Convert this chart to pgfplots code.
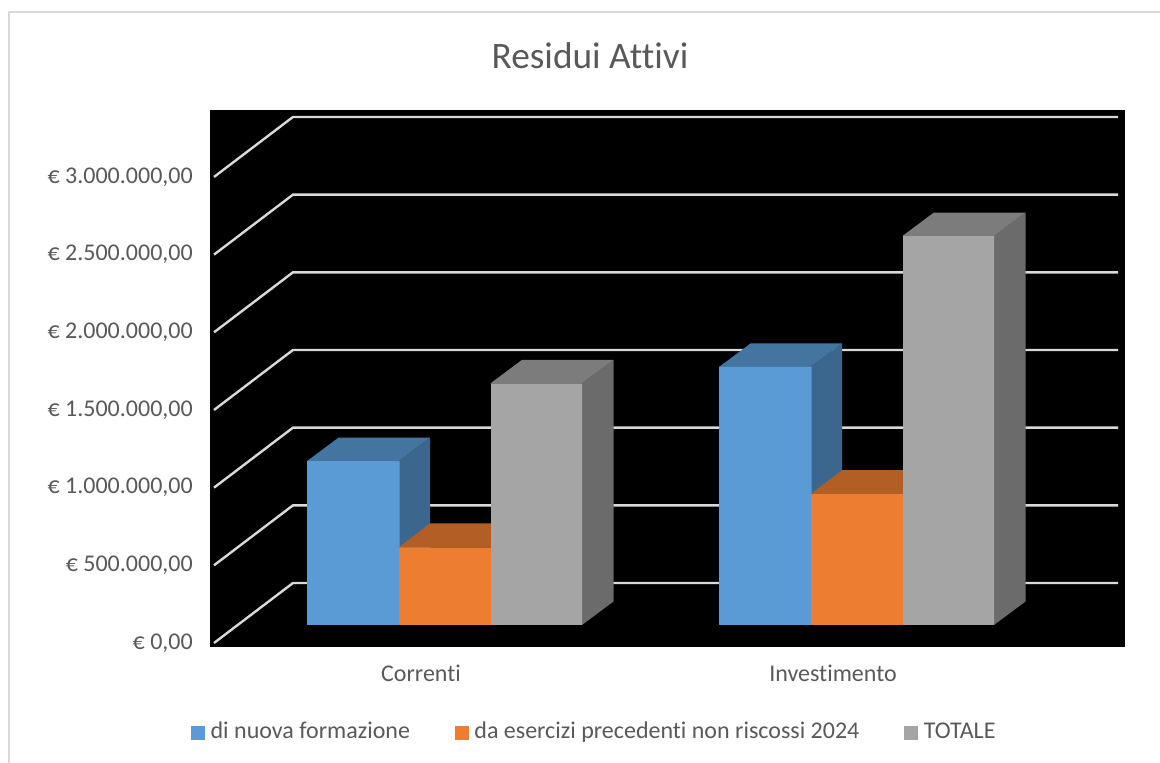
\documentclass[border=0pt]{standalone}
\usepackage{fontspec}
\setmainfont{Carlito}[Ligatures=NoCommon]
\usepackage{pgfplots}
\pgfplotsset{compat=1.18}

\definecolor{txt}{HTML}{595959}
\definecolor{gridc}{HTML}{D9D9D9}
\definecolor{blufront}{HTML}{5B9BD5}
\definecolor{blutop}{HTML}{4475A1}
\definecolor{bluside}{HTML}{3B668E}
\definecolor{orafront}{HTML}{ED7D31}
\definecolor{oratop}{HTML}{B25E25}
\definecolor{grafront}{HTML}{A5A5A5}
\definecolor{gratop}{HTML}{7C7C7C}
\definecolor{graside}{HTML}{6B6B6B}

% 1 px of the reference = 0.75pt; the 3D bars stand 18 px above the front floor line
\pgfplotsset{
  wall/.style={forget plot, no marks, gridc, line width=1.8pt},
  face/.style={forget plot, no marks, draw=none, fill=#1, yshift=13.5pt},
  front/.style n args={3}{forget plot, ybar, bar width=#3, bar shift=#2, draw=none, fill=#1, yshift=13.5pt},
  legsq/.style={legend image code/.code={\fill[##1] (0pt,-5.25pt) rectangle (10.5pt,5.25pt);}},
}

\begin{document}
\begin{tikzpicture}
\path[use as bounding box] (0,0) rectangle (870pt,572.25pt);
\draw[gridc, line width=1.2pt] (6.75pt,0pt) -- (6.75pt,563.25pt) -- (870pt,563.25pt);
\begin{axis}[
  at={(157.5pt,87pt)}, anchor=south west,
  scale only axis, width=686.25pt, height=402.75pt,
  xmin=-0.5121, xmax=1.7087,
  ymin=-25750, ymax=3431188,
  axis background/.style={fill=black},
  axis line style={draw=none},
  major tick length=0pt,
  xtick={0,1}, xticklabels={Correnti,Investimento},
  ytick={0,500000,1000000,1500000,2000000,2500000,3000000},
  yticklabels={{€ 0,00},{€ 500.000,00},{€ 1.000.000,00},{€ 1.500.000,00},{€ 2.000.000,00},{€ 2.500.000,00},{€ 3.000.000,00}},
  scaled y ticks=false,
  tick label style={font=\fontsize{18}{20}\selectfont, text=txt},
  xticklabel style={anchor=center, yshift=-19.5pt, inner sep=0pt},
  yticklabel style={anchor=east, xshift=-12.75pt, inner sep=0pt},
  title={Residui Attivi},
  title style={at={(axis description cs:0.4153,1.0857)}, anchor=center, inner sep=0pt,
    font=\fontsize{28}{32}\selectfont, text=txt},
  legend columns=3,
  legend cell align=left,
  legend style={at={(axis description cs:-0.0208,-0.16)}, anchor=west, draw=none, fill=none,
    inner sep=0pt, outer sep=0pt,
    font=\fontsize{18}{20}\selectfont, text=txt,
    nodes={text height=12pt, text depth=4pt},
    /tikz/every odd column/.append style={column sep=2.25pt},
    /tikz/every even column/.append style={column sep=31.5pt}},
]
\addlegendimage{legsq, fill=blufront, draw=none}
\addlegendimage{legsq, fill=orafront, draw=none}
\addlegendimage{legsq, fill=grafront, draw=none}
\addlegendentry{di nuova formazione}
\addlegendentry{da esercizi precedenti non riscossi 2024}
\addlegendentry{TOTALE}

% back wall lines with their diagonals to the front
\addplot[wall] coordinates {(-0.5024,0) (-0.3107,386250) (1.6917,386250)};
\addplot[wall] coordinates {(-0.5024,500000) (-0.3107,886250) (1.6917,886250)};
\addplot[wall] coordinates {(-0.5024,1000000) (-0.3107,1386250) (1.6917,1386250)};
\addplot[wall] coordinates {(-0.5024,1500000) (-0.3107,1886250) (1.6917,1886250)};
\addplot[wall] coordinates {(-0.5024,2000000) (-0.3107,2386250) (1.6917,2386250)};
\addplot[wall] coordinates {(-0.5024,2500000) (-0.3107,2886250) (1.6917,2886250)};
\addplot[wall] coordinates {(-0.5024,3000000) (-0.3107,3386250) (1.6917,3386250)};

% di nuova formazione
\addplot[face=bluside] coordinates {(-0.0541,0) (-0.0541,1055000) (0.0224,1206300) (0.0224,151300)};
\addplot[face=blutop] coordinates {(-0.2767,1055000) (-0.0541,1055000) (0.0224,1206300) (-0.2002,1206300)};
\addplot[face=bluside] coordinates {(0.9459,0) (0.9459,1661000) (1.0224,1812300) (1.0224,151300)};
\addplot[face=blutop] coordinates {(0.7233,1661000) (0.9459,1661000) (1.0224,1812300) (0.7998,1812300)};
\addplot[front={blufront}{-0.1644}{0.2245}] coordinates {(0,1055000) (1,1661000)};

% da esercizi precedenti
\addplot[face=oratop] coordinates {(-0.0541,500000) (0.1684,500000) (0.2449,654500) (0.0224,654500)};
\addplot[face=oratop] coordinates {(0.9459,843000) (1.1684,843000) (1.2449,997500) (1.0224,997500)};
\addplot[front={orafront}{0.0583}{0.2233}] coordinates {(0,500000) (1,843000)};

% totale
\addplot[face=graside] coordinates {(0.3908,0) (0.3908,1555000) (0.4673,1706300) (0.4673,151300)};
\addplot[face=gratop] coordinates {(0.1684,1555000) (0.3908,1555000) (0.4673,1706300) (0.2449,1706300)};
\addplot[face=graside] coordinates {(1.3908,0) (1.3908,2504000) (1.4673,2655300) (1.4673,151300)};
\addplot[face=gratop] coordinates {(1.1684,2504000) (1.3908,2504000) (1.4673,2655300) (1.2449,2655300)};
\addplot[front={grafront}{0.2804}{0.2209}] coordinates {(0,1555000) (1,2504000)};
\end{axis}
\end{tikzpicture}
\end{document}
